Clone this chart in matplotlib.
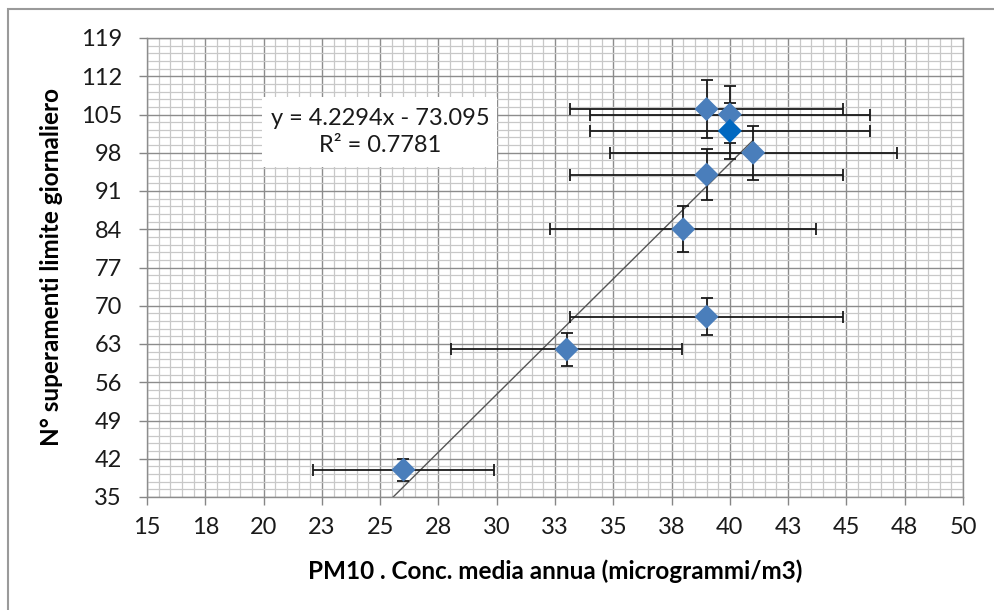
import numpy as np
import matplotlib
matplotlib.use('Agg')
import matplotlib.pyplot as plt
from matplotlib.patches import Rectangle

plt.rcParams['font.family'] = ['Lato', 'DejaVu Sans']

# PM10 annual mean vs number of daily-limit exceedances
pm10 = [26.0, 33.0, 39.0, 39.0, 40.0, 40.0, 41.0, 39.0, 38.0]
superamenti = [40, 62, 68, 106, 105, 102, 98, 94, 84]
pm10_err = [3.9, 4.95, 5.85, 5.85, 6.0, 6.0, 6.15, 5.85, 5.7]
sup_err = [2.0, 3.1, 3.4, 5.3, 5.25, 5.1, 4.9, 4.7, 4.2]

xtick_vals = [15, 17.5, 20, 22.5, 25, 27.5, 30, 32.5, 35, 37.5, 40, 42.5, 45, 47.5, 50]
xtick_labels = ['15', '18', '20', '23', '25', '28', '30', '33', '35', '38', '40', '43', '45', '48', '50']
ytick_vals = [35, 42, 49, 56, 63, 70, 77, 84, 91, 98, 105, 112, 119]

slope, intercept = 4.2294, -73.095
eq_text = 'y = 4.2294x - 73.095\nR² = 0.7781'

W, H = 994, 610
fig = plt.figure(figsize=(W / 100, H / 100), dpi=100)
ax = fig.add_axes([147/W, 1 - 497/H, (963-147)/W, (497-38)/H])

# outer chart frame
fig.patches.append(Rectangle((8/W, -0.1), 1.2, 1 - 9/H + 0.1, transform=fig.transFigure,
                             fill=False, edgecolor='#9a9a9a', linewidth=1.5, zorder=0))

ax.set_xlim(15, 50)
ax.set_ylim(35, 119)
ax.set_xticks(xtick_vals)
ax.set_xticklabels(xtick_labels)
ax.set_yticks(ytick_vals)
ax.set_xticks(np.arange(15, 50.01, 0.5), minor=True)
ax.set_yticks(np.arange(35, 119.01, 1.4), minor=True)
ax.tick_params(which='major', direction='out', length=6, width=1, color='#868686',
               labelsize=17, labelcolor='#1a1a1a')
ax.tick_params(axis='x', pad=8.5)
ax.tick_params(axis='y', pad=12)
ax.tick_params(which='minor', length=0)
ax.grid(which='minor', color='#c8c8c8', linewidth=0.9)
ax.grid(which='major', color='#8c8c8c', linewidth=1.0)
ax.set_axisbelow(True)
for s in ax.spines.values():
    s.set_color('#8c8c8c')
    s.set_linewidth(1.0)

# trend line
x0 = (35 - intercept) / slope
xt = np.array([x0, max(pm10)])
ax.plot(xt, slope * xt + intercept, color='#555555', linewidth=1.0, zorder=2)

ax.errorbar(pm10, superamenti, xerr=pm10_err, yerr=sup_err, fmt='none',
            ecolor='#1a1a1a', elinewidth=1.3, capsize=4.5, capthick=1.3, zorder=3)
colors = ['#4a7ebb'] * len(pm10)
colors[5] = '#0068c0'
ax.scatter(pm10, superamenti, marker='D', s=150, c=colors, edgecolors='none', zorder=4)

# equation label box
fig.patches.append(Rectangle((262/W, 1 - 167/H), (497-262)/W, 70/H, transform=fig.transFigure,
                             facecolor='white', edgecolor='none', zorder=5))
fig.text(380/W, 1 - 132/H, eq_text, ha='center', va='center', fontsize=17,
         linespacing=1.3, color='#1a1a1a', zorder=6)

ax.set_xlabel('PM10 . Conc. media annua (microgrammi/m3)', fontsize=17.5, fontweight='bold',
              labelpad=15)
ax.set_ylabel('N° superamenti limite giornaliero', fontsize=17.5, fontweight='bold', labelpad=13)

fig.savefig('out.png', dpi=100)
